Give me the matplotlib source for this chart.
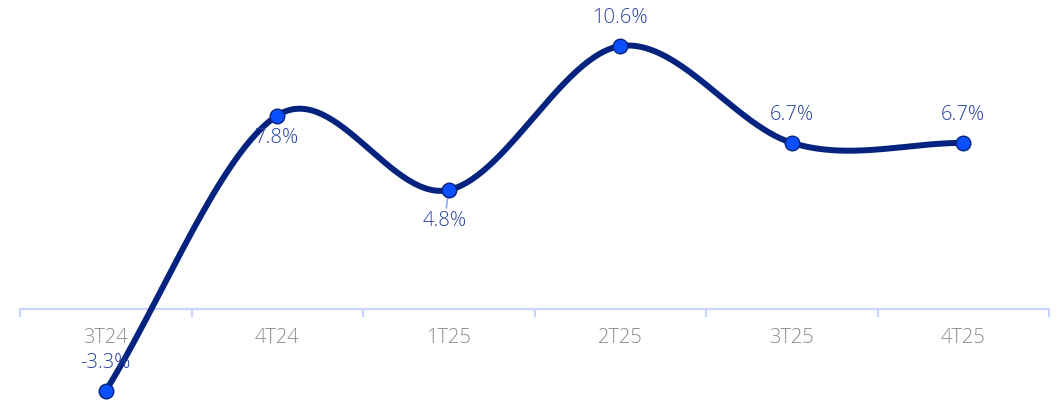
import numpy as np
import matplotlib
matplotlib.use('Agg')
import matplotlib.pyplot as plt

# data
quarters = ['3T24', '4T24', '1T25', '2T25', '3T25', '4T25']
growth = [-3.3, 7.8, 4.8, 10.6, 6.7, 6.7]
value_labels = ['-3.3%', '7.8%', '4.8%', '10.6%', '6.7%', '6.7%']
label_above = [True, False, False, True, True, True]

LINE = '#04237f'
DOT = '#0a50ff'
LABEL = '#2742a0'
AXIS = '#c9d5ff'

plt.rcParams['font.family'] = ['Open Sans', 'DejaVu Sans']


def smooth_curve(xs, ys, n=60, tension=1.0):
    # catmull-rom style hermite spline through the points
    xs = np.asarray(xs, float)
    ys = np.asarray(ys, float)
    m = np.zeros_like(ys)
    m[1:-1] = (ys[2:] - ys[:-2]) / 2 * tension
    m[0] = ys[1] - ys[0]
    m[-1] = ys[-1] - ys[-2]
    px, py = [], []
    for i in range(len(xs) - 1):
        t = np.linspace(0, 1, n)
        h00 = 2 * t**3 - 3 * t**2 + 1
        h10 = t**3 - 2 * t**2 + t
        h01 = -2 * t**3 + 3 * t**2
        h11 = t**3 - t**2
        px.append(xs[i] + t * (xs[i + 1] - xs[i]))
        py.append(h00 * ys[i] + h10 * m[i] + h01 * ys[i + 1] + h11 * m[i + 1])
    return np.concatenate(px), np.concatenate(py)


fig = plt.figure(figsize=(10.58, 4.01), dpi=100)
ax = fig.add_axes([20 / 1058, 0, 1029 / 1058, 1])
x = np.arange(len(quarters))

ax.set_xlim(-0.5, len(quarters) - 0.5)
ax.set_ylim(-3.71, 12.46)

cx, cy = smooth_curve(x, growth, tension=1.1)
ax.plot(cx, cy, color=LINE, lw=4.3, solid_capstyle='round', zorder=3, clip_on=False)
ax.scatter(x, growth, s=110, color=DOT, edgecolors=LINE, linewidths=1.0, zorder=4, clip_on=False)

lab_kw = dict(color=LABEL, fontsize=14.5, fontweight='light')
for xi, yi, lab, up in zip(x, growth, value_labels, label_above):
    if up:
        ax.annotate(lab, (xi, yi), xytext=(0, 13), textcoords='offset points',
                    ha='center', va='bottom', **lab_kw)
    elif lab == '4.8%':
        ax.annotate(lab, (xi, yi), xytext=(-3, -15), textcoords='offset points',
                    ha='center', va='top',
                    arrowprops=dict(arrowstyle='-', color='#8fa6ff', lw=1.2,
                                    shrinkA=0, shrinkB=0), **lab_kw)
    else:
        ax.annotate(lab, (xi, yi), xytext=(0, -9), textcoords='offset points',
                    ha='center', va='top', **lab_kw)

# axis at zero with category labels below
for s in ['top', 'right', 'left']:
    ax.spines[s].set_visible(False)
ax.spines['bottom'].set_position(('data', 0))
ax.spines['bottom'].set_color(AXIS)
ax.spines['bottom'].set_linewidth(1.6)
ax.set_yticks([])
ax.set_xticks(x)
ax.set_xticklabels(quarters, color='#8c8c8c', fontsize=14.5, fontweight='light')
ax.tick_params(axis='x', which='major', length=0, pad=14)
ax.set_xticks(np.arange(-0.5, len(quarters)), minor=True)
ax.tick_params(axis='x', which='minor', length=6, width=1.6, color=AXIS, direction='out')
ax.patch.set_alpha(0)

fig.savefig('out.png', dpi=100)
